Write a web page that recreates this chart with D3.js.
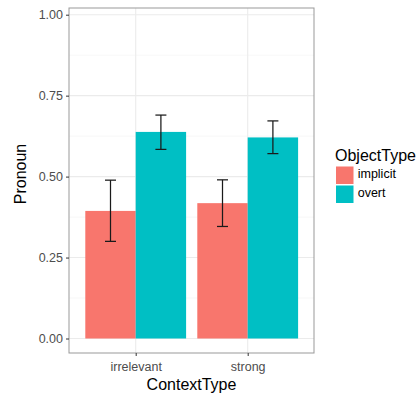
<!DOCTYPE html>
<html>
<head>
<meta charset="utf-8">
<script src="https://d3js.org/d3.v7.min.js"></script>
<style>
  body { margin: 0; background: #fff; }
  text { font-family: "Liberation Sans", Arial, sans-serif; }
</style>
</head>
<body>
<div id="chart"></div>
<script>
// data
var contexts = ["irrelevant", "strong"];
var objectTypes = ["implicit", "overt"];
var typeColors = ["#F8766D", "#00BFC4"];
var implicitMean = [0.394, 0.418];
var implicitLow = [0.300, 0.346];
var implicitHigh = [0.489, 0.490];
var overtMean = [0.638, 0.621];
var overtLow = [0.584, 0.571];
var overtHigh = [0.690, 0.672];
var yTicks = [0, 0.25, 0.5, 0.75, 1.0];
var yMinor = [0.125, 0.375, 0.625, 0.875];

var rows = [];
contexts.forEach(function(c, i) {
  rows.push({ctx: c, type: "implicit", mean: implicitMean[i], lo: implicitLow[i], hi: implicitHigh[i]});
  rows.push({ctx: c, type: "overt", mean: overtMean[i], lo: overtLow[i], hi: overtHigh[i]});
});

var W = 419, H = 396;
var panel = {left: 69, right: 314, top: 8, bottom: 353};

var svg = d3.select("#chart").append("svg").attr("width", W).attr("height", H);

// category centres 112px apart, dodged bars fill 90% of that
var step = 112, groupW = step * 0.9;
var xc = d3.scalePoint().domain(contexts).range([135.7, 247.7]);
var xsub = d3.scaleBand().domain(objectTypes).range([-groupW / 2, groupW / 2]);
var y = d3.scaleLinear().domain([0, 1]).range([338.5, 14.7]);
var color = d3.scaleOrdinal().domain(objectTypes).range(typeColors);

// grid
var g = svg.append("g");
g.selectAll(".minor").data(yMinor).enter().append("line")
  .attr("x1", panel.left).attr("x2", panel.right)
  .attr("y1", function(d) { return y(d); }).attr("y2", function(d) { return y(d); })
  .attr("stroke", "#f2f2f2").attr("stroke-width", 0.6);
g.selectAll(".major").data(yTicks).enter().append("line")
  .attr("x1", panel.left).attr("x2", panel.right)
  .attr("y1", function(d) { return y(d); }).attr("y2", function(d) { return y(d); })
  .attr("stroke", "#ebebeb").attr("stroke-width", 1.1);
g.selectAll(".vmajor").data(contexts).enter().append("line")
  .attr("y1", panel.top).attr("y2", panel.bottom)
  .attr("x1", function(d) { return xc(d); }).attr("x2", function(d) { return xc(d); })
  .attr("stroke", "#ebebeb").attr("stroke-width", 1.1);

// bars
svg.selectAll(".bar").data(rows).enter().append("rect")
  .attr("x", function(d) { return xc(d.ctx) + xsub(d.type); })
  .attr("width", xsub.bandwidth())
  .attr("y", function(d) { return y(d.mean); })
  .attr("height", function(d) { return y(0) - y(d.mean); })
  .attr("fill", function(d) { return color(d.type); });

// error bars
var eb = svg.selectAll(".eb").data(rows).enter().append("g")
  .attr("stroke", "#1a1a1a").attr("stroke-width", 1.25);
var cx = function(d) { return xc(d.ctx) + xsub(d.type) + xsub.bandwidth() / 2; };
var hw = 5.5;
eb.append("line").attr("x1", cx).attr("x2", cx)
  .attr("y1", function(d) { return y(d.lo); }).attr("y2", function(d) { return y(d.hi); });
eb.append("line").attr("x1", function(d) { return cx(d) - hw; }).attr("x2", function(d) { return cx(d) + hw; })
  .attr("y1", function(d) { return y(d.lo); }).attr("y2", function(d) { return y(d.lo); });
eb.append("line").attr("x1", function(d) { return cx(d) - hw; }).attr("x2", function(d) { return cx(d) + hw; })
  .attr("y1", function(d) { return y(d.hi); }).attr("y2", function(d) { return y(d.hi); });

// panel border
svg.append("rect")
  .attr("x", panel.left).attr("y", panel.top)
  .attr("width", panel.right - panel.left).attr("height", panel.bottom - panel.top)
  .attr("fill", "none").attr("stroke", "#999").attr("stroke-width", 1);

// y axis
var yAxis = svg.append("g").attr("transform", "translate(" + panel.left + ",0)")
  .call(d3.axisLeft(y).tickValues(yTicks).tickSize(3).tickPadding(3).tickFormat(d3.format(".2f")));
yAxis.select(".domain").remove();
yAxis.selectAll("line").attr("stroke", "#333");
yAxis.selectAll("text").attr("fill", "#4d4d4d").style("font-size", "12.5px")
  .style("font-family", "Liberation Sans, Arial, sans-serif");

// x axis
var xAxis = svg.append("g").attr("transform", "translate(0," + panel.bottom + ")")
  .call(d3.axisBottom(xc).tickSize(3).tickPadding(6));
xAxis.select(".domain").remove();
xAxis.selectAll("line").attr("stroke", "#333");
xAxis.selectAll("text").attr("fill", "#4d4d4d").style("font-size", "12.5px")
  .style("font-family", "Liberation Sans, Arial, sans-serif");

// axis titles
svg.append("text").attr("x", (panel.left + panel.right) / 2).attr("y", 390)
  .attr("text-anchor", "middle").style("font-size", "16px").text("ContextType");
svg.append("text").attr("transform", "translate(26,174) rotate(-90)")
  .attr("text-anchor", "middle").style("font-size", "16px").text("Pronoun");

// legend
var leg = svg.append("g").attr("transform", "translate(335,0)");
leg.append("text").attr("x", 0).attr("y", 160.5).style("font-size", "16px").text("ObjectType");
var items = leg.selectAll(".li").data(objectTypes).enter().append("g")
  .attr("transform", function(d, i) { return "translate(0," + (166.5 + i * 19) + ")"; });
items.append("rect").attr("x", 1).attr("y", 0).attr("width", 17.5).attr("height", 17.5)
  .attr("fill", function(d) { return color(d); });
items.append("text").attr("x", 22.7).attr("y", 11.5).style("font-size", "12.5px").attr("fill", "#000")
  .text(function(d) { return d; });
</script>
</body>
</html>
